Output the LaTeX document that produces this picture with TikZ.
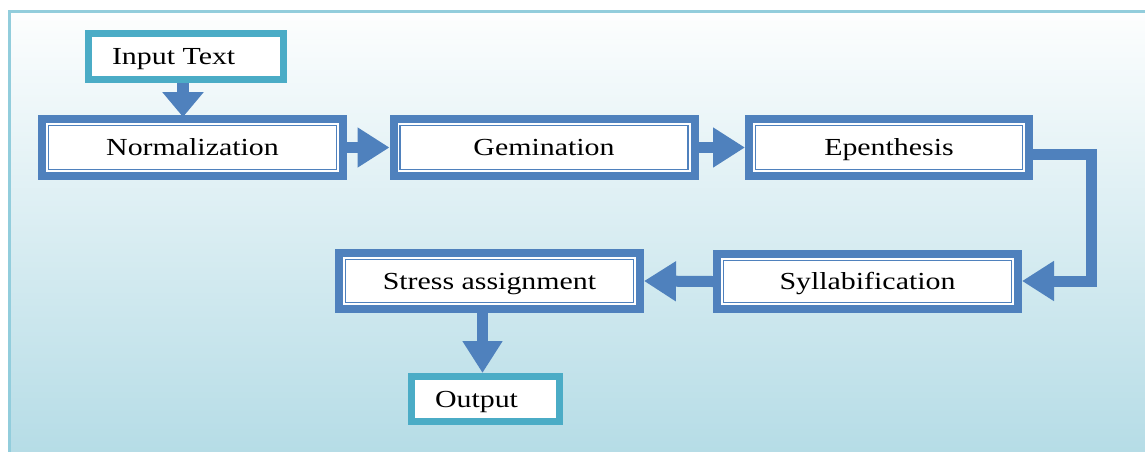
\documentclass[tikz,border=0pt]{standalone}
\usepackage{fontspec}
\setmainfont{Liberation Serif}
\usetikzlibrary{arrows.meta}
\definecolor{boxblue}{HTML}{4F81BD}
\definecolor{tealc}{HTML}{4BACC6}
\definecolor{framec}{HTML}{92CDDC}
\definecolor{bgtop}{HTML}{FDFEFE}
\definecolor{bgbot}{HTML}{B5DCE6}
\newcommand\sx[1]{\scalebox{1.22}[1]{#1}}
\begin{document}
\begin{tikzpicture}[x=1pt,y=-1pt,
  txt/.style={font=\fontsize{24.5}{28}\selectfont, text height=16pt, text depth=0pt},
  procbox/.style={txt, draw=boxblue, line width=8pt, fill=white, minimum width=301pt, minimum height=57pt, inner sep=0pt},
  iobox/.style={txt, draw=tealc, line width=7pt, fill=white, minimum width=195pt, minimum height=46pt, inner sep=0pt},
  innerline/.style={draw=boxblue, line width=1.8pt},
  flow/.style={draw=boxblue, line width=11pt, line join=miter, -{Triangle[length=32pt,width=38pt]}},
  shortflow/.style={draw=boxblue, line width=12pt, -{Triangle[length=25pt,width=40pt]}}
]
\useasboundingbox (0,0) rectangle (1145,451);
\fill[white] (0,0) rectangle (1145,451);
\draw[framec, line width=3pt, top color=bgtop, bottom color=bgbot] (9,11) rectangle (1152,456);

\node[iobox] (inp) at (186,56.5) {\makebox[148pt][l]{\sx{Input Text}}};
\node[procbox] (norm) at (192.5,147.5) {\sx{Normalization}};
\node[procbox] (gem) at (544,147.5) {\sx{Gemination}};
\node[procbox, minimum width=280pt] (epen) at (889,147.5) {\sx{Epenthesis}};
\node[procbox, minimum height=55pt] (syll) at (867.5,281.5) {\sx{Syllabification}};
\node[procbox, minimum height=56pt] (stress) at (489.5,281) {\sx{Stress assignment}};
\node[iobox, minimum width=148pt, minimum height=45pt] (out) at (485.5,399) {\makebox[101pt][l]{\sx{Output}}};

\foreach \n in {norm,gem,epen,syll,stress}
  \draw[innerline] ([xshift=10.5pt,yshift=10.5pt]\n.south west) rectangle ([xshift=-10.5pt,yshift=-10.5pt]\n.north east);

\coordinate (c1) at (1091,154);
\coordinate (c2) at (1091,281);

\draw[shortflow] ([xshift=-3pt]inp.south) -- ([xshift=-3pt,yshift=-2pt]inp.south |- norm.north);
\draw[flow] (norm.east) -- (gem.west);
\draw[flow] (gem.east) -- (epen.west);
\draw[flow] (epen.east |- c1) -- (c1) -- (c2) -- (syll.east |- c2);
\draw[flow] (syll.west) -- (stress.east);
\draw[flow] ([xshift=-7pt]stress.south) -- ([xshift=-7pt]stress.south |- out.north);
\end{tikzpicture}
\end{document}
